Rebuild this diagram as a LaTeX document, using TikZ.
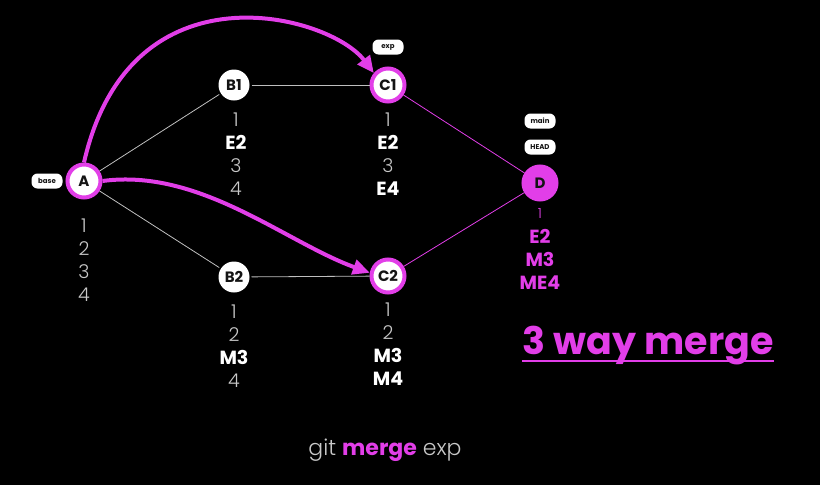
\documentclass[tikz,border=0pt]{standalone}
\usepackage{fontspec}
\setmainfont{Poppins}
\newfontfamily\thinfont{Poppins Light}
\usepackage{tikz}
\usetikzlibrary{arrows.meta,positioning}

\definecolor{magenta}{RGB}{226,62,232}
\definecolor{numgray}{RGB}{200,200,200}
\definecolor{linegray}{RGB}{190,190,190}
\definecolor{ink}{RGB}{20,20,20}

\begin{document}
\begin{tikzpicture}[x=1pt,y=-1pt,>={Triangle[length=17pt,width=15pt]}]
\tikzstyle{commit}=[circle, fill=white, draw=magenta, line width=4pt,
minimum size=33pt, inner sep=0pt, text=ink, font=\fontsize{15}{15}\selectfont\bfseries]
\tikzstyle{plain}=[commit, draw=none, minimum size=31pt]
\tikzstyle{tag}=[rectangle, rounded corners=6pt, fill=white, text=ink,
minimum height=15pt, minimum width=31pt, inner sep=2pt, font=\fontsize{7}{7}\selectfont\bfseries]
\tikzstyle{lines}=[align=center, anchor=north, inner sep=0pt, text=numgray,
font=\fontsize{19}{23}\selectfont\thinfont]
\tikzstyle{edge}=[draw=linegray, line width=0.8pt]
\tikzstyle{medge}=[draw=magenta, line width=0.8pt]
\tikzstyle{swoop}=[->, draw=magenta, line width=4pt]

% background
\fill[black] (0,0) rectangle (820,485);
\useasboundingbox (0,0) rectangle (820,485);

% commits
\node[commit] (A) at (84,181) {A};
\node[plain] (B1) at (234,85) {B1};
\node[plain] (B2) at (234,277) {B2};
\node[commit] (C1) at (388,85) {C1};
\node[commit] (C2) at (388,276) {C2};
\node[commit, fill=magenta] (D) at (540,183) {D};

% refs
\node[tag] (base) at (47,181) {base};
\node[tag] (exp) at (388,47) {exp};
\node[tag] (main) at (540,121) {main};
\node[tag] (head) at (540,147) {HEAD};

% history
\draw[edge] (A) -- (B1);
\draw[edge] (A) -- (B2);
\draw[edge] (B1) -- (C1);
\draw[edge] (B2) -- (C2);
\draw[medge] (C1) -- (D);
\draw[medge] (C2) -- (D);

% file contents
\node[lines] (Atxt) at (84,219) {1\\2\\3\\4};
\node[lines] (B1txt) at (236,113) {1\\\textcolor{white}{\normalfont\bfseries E2}\\3\\4};
\node[lines] (C1txt) at (388,113) {1\\\textcolor{white}{\normalfont\bfseries E2}\\3\\\textcolor{white}{\normalfont\bfseries E4}};
\node[lines] (B2txt) at (234,305) {1\\2\\\textcolor{white}{\normalfont\bfseries M3}\\4};
\node[lines] (C2txt) at (388,303) {1\\2\\\textcolor{white}{\normalfont\bfseries M3}\\\textcolor{white}{\normalfont\bfseries M4}};
\node[lines, text=magenta] (Dtxt) at (540,208) {\fontsize{14}{14}\selectfont 1\\[2pt]
\normalfont\bfseries E2\\\normalfont\bfseries M3\\\normalfont\bfseries ME4};

% merge base to tips
\draw[swoop] (A.north) .. controls (130,-40) and (330,15) .. (C1.140);
\draw[swoop] (A.east) .. controls (200,168) and (285,242) .. (C2.170);

% captions
\node[text=magenta, font=\fontsize{38}{38}\selectfont\bfseries, inner sep=0pt] (title) at (648,346) {3 way merge};
\draw[magenta, line width=1.6pt] (title.base west) ++(0,6) coordinate (ul) -- (ul -| title.base east);
\node[text=numgray, font=\fontsize{22}{22}\selectfont\thinfont] (cmd) at (385,450) {git \textcolor{magenta}{\normalfont\bfseries merge} exp};

\end{tikzpicture}
\end{document}
